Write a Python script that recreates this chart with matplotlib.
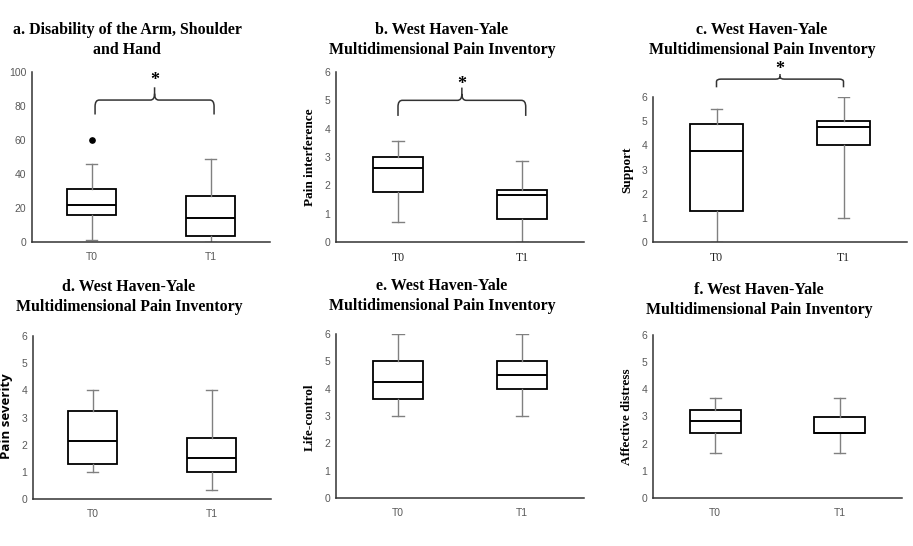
import matplotlib.pyplot as plt
from matplotlib.path import Path
from matplotlib.patches import PathPatch
import numpy as np

# T0 / T1 box statistics: whislo, q1, med, q3, whishi
groups = ['T0', 'T1']

dash_t0 = [1, 16, 21.5, 31, 46]
dash_t1 = [0, 3.5, 14, 27, 49]
dash_fliers_t0 = [60]

interf_t0 = [0.7, 1.75, 2.6, 3.0, 3.55]
interf_t1 = [0, 0.8, 1.65, 1.85, 2.85]

support_t0 = [0, 1.3, 3.75, 4.9, 5.5]
support_t1 = [1.0, 4.0, 4.75, 5.0, 6.0]

severity_t0 = [1.0, 1.3, 2.15, 3.25, 4.0]
severity_t1 = [0.33, 1.0, 1.5, 2.25, 4.0]

control_t0 = [3.0, 3.63, 4.25, 5.0, 6.0]
control_t1 = [3.0, 4.0, 4.5, 5.0, 6.0]

distress_t0 = [1.67, 2.4, 2.85, 3.25, 3.67]
distress_t1 = [1.67, 2.4, 2.4, 3.0, 3.67]

plt.rcParams['font.family'] = 'Liberation Sans'
GRAY = '#595959'

fig = plt.figure(figsize=(9.13, 5.46), dpi=100)
W, H = 913, 546


def add_ax(l, r, t, b):
    return fig.add_axes([l / W, 1 - b / H, (r - l) / W, (b - t) / H])


def stats(vals, fliers=()):
    lo, q1, med, q3, hi = vals
    return dict(whislo=lo, q1=q1, med=med, q3=q3, whishi=hi, fliers=list(fliers))


def draw_box(ax, s0, s1, ymax, ticks, serif_x=False):
    ax.bxp([s0, s1], positions=[1, 2], widths=0.41, showfliers=True,
           patch_artist=True, capwidths=0.09,
           boxprops=dict(facecolor='white', edgecolor='black', linewidth=1.3),
           medianprops=dict(color='black', linewidth=1.4),
           whiskerprops=dict(color='#808080', linewidth=1),
           capprops=dict(color='#808080', linewidth=1),
           flierprops=dict(marker='o', markerfacecolor='black',
                           markeredgecolor='black', markersize=3.8))
    ax.set_xlim(0.5, 2.5)
    ax.set_ylim(0, ymax)
    ax.set_yticks(ticks)
    ax.set_xticks([1, 2])
    ax.set_xticklabels(groups)
    ax.tick_params(length=0, labelsize=7.5, colors=GRAY, pad=7)
    ax.tick_params(axis='y', pad=4)
    if serif_x:
        for t in ax.get_xticklabels():
            t.set_family('Liberation Serif')
            t.set_fontsize(8.5)
            t.set_color('#222222')
    for s in ['top', 'right']:
        ax.spines[s].set_visible(False)
    for s in ['left', 'bottom']:
        ax.spines[s].set_color('#333333')
        ax.spines[s].set_linewidth(1.1)


def brace(ax, x0, x1, y_end, y_bar, y_peak, y_star):
    xm = (x0 + x1) / 2
    rx = 0.035
    ry = (y_peak - y_bar) * 0.5
    verts = [(x0, y_end), (x0, y_bar - ry), (x0, y_bar), (x0 + rx, y_bar),
             (xm - rx, y_bar), (xm, y_bar), (xm, y_bar + ry), (xm, y_peak),
             (xm, y_bar + ry), (xm, y_bar), (xm + rx, y_bar),
             (x1 - rx, y_bar), (x1, y_bar), (x1, y_bar - ry), (x1, y_end)]
    codes = [Path.MOVETO, Path.LINETO, Path.CURVE3, Path.CURVE3,
             Path.LINETO, Path.CURVE3, Path.CURVE3, Path.LINETO,
             Path.MOVETO, Path.CURVE3, Path.CURVE3,
             Path.LINETO, Path.CURVE3, Path.CURVE3, Path.LINETO]
    ax.add_patch(PathPatch(Path(verts, codes), facecolor='none', edgecolor='#333333',
                           linewidth=1.1, clip_on=False))
    ax.text(xm, y_star, '*', ha='center', va='center', fontsize=13,
            fontweight='bold', family='Liberation Serif', clip_on=False)


def title(x, y, txt):
    fig.text(x / W, 1 - y / H, txt, ha='center', va='center', fontsize=11.4,
             fontweight='bold', family='Liberation Serif', linespacing=1.28)


def ylab(x, y, txt, serif=True):
    fig.text(x / W, 1 - y / H, txt, ha='center', va='center', rotation=90,
             fontsize=9.5, fontweight='bold',
             family='Liberation Serif' if serif else 'Open Sans')


six = [0, 1, 2, 3, 4, 5, 6]

# a
ax = add_ax(32, 270, 72, 242)
draw_box(ax, stats(dash_t0, dash_fliers_t0), stats(dash_t1), 100, [0, 20, 40, 60, 80, 100])
brace(ax, 1.03, 2.03, 75, 83.5, 91, 95)
title(127, 40, 'a. Disability of the Arm, Shoulder\nand Hand')

# b
ax = add_ax(336, 584, 72, 242)
draw_box(ax, stats(interf_t0), stats(interf_t1), 6, six, serif_x=True)
brace(ax, 1.0, 2.03, 4.45, 5.0, 5.45, 5.57)
title(442, 40, 'b. West Haven-Yale\nMultidimensional Pain Inventory')
ylab(310, 157, 'Pain interference')

# c
ax = add_ax(653, 907, 97, 242)
draw_box(ax, stats(support_t0), stats(support_t1), 6, six, serif_x=True)
brace(ax, 1.0, 2.0, 6.4, 6.74, 6.95, 7.12)
title(762, 40, 'c. West Haven-Yale\nMultidimensional Pain Inventory')
ylab(627, 170, 'Support')

# d
ax = add_ax(33, 271, 336, 499)
draw_box(ax, stats(severity_t0), stats(severity_t1), 6, six)
title(129, 297, 'd. West Haven-Yale\nMultidimensional Pain Inventory')
ylab(7, 416, 'Pain severity', serif=False)

# e
ax = add_ax(336, 584, 334, 498)
draw_box(ax, stats(control_t0), stats(control_t1), 6, six)
title(442, 296, 'e. West Haven-Yale\nMultidimensional Pain Inventory')
ylab(310, 417, 'Life-control')

# f
ax = add_ax(653, 902, 335, 498)
draw_box(ax, stats(distress_t0), stats(distress_t1), 6, six)
title(759, 300, 'f. West Haven-Yale\nMultidimensional Pain Inventory')
ylab(627, 417, 'Affective distress')

fig.savefig('out.png', dpi=100)
